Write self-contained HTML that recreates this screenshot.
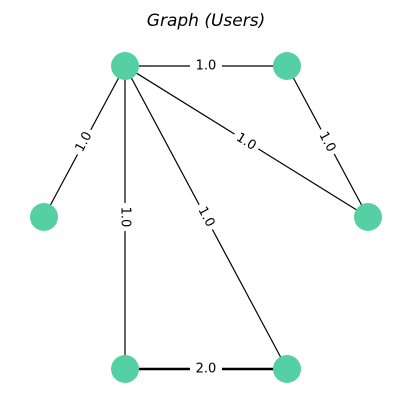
<!DOCTYPE html>
<html><head><style>body{margin:0;background:#fff}</style></head><body>
<svg width="411" height="411" viewBox="0 0 411 411" xmlns="http://www.w3.org/2000/svg" font-family="DejaVu Sans, Liberation Sans, sans-serif">
<text x="206" y="26" text-anchor="middle" font-size="17" font-style="italic">Graph (Users)</text>
<g stroke="#000" stroke-width="1.2">
<line x1="125" y1="66" x2="287" y2="66"/>
<line x1="125" y1="66" x2="44" y2="217"/>
<line x1="125" y1="66" x2="368" y2="217"/>
<line x1="287" y1="66" x2="368" y2="217"/>
<line x1="125" y1="66" x2="125" y2="369"/>
<line x1="125" y1="66" x2="287" y2="369"/>
<line x1="125" y1="369" x2="287" y2="369" stroke-width="2.4"/>
</g>
<g font-size="13" text-anchor="middle" dominant-baseline="central">
<g transform="translate(206,66)"><rect x="-16" y="-8" width="32" height="16" fill="#fff"/><text>1.0</text></g>
<g transform="translate(84,142) rotate(-61.8)"><rect x="-14" y="-8" width="28" height="16" fill="#fff"/><text>1.0</text></g>
<g transform="translate(246,142) rotate(31.8)"><rect x="-14" y="-8" width="28" height="16" fill="#fff"/><text>1.0</text></g>
<g transform="translate(327,142) rotate(61.8)"><rect x="-14" y="-8" width="28" height="16" fill="#fff"/><text>1.0</text></g>
<g transform="translate(125,217) rotate(90)"><rect x="-14" y="-8" width="28" height="16" fill="#fff"/><text>1.0</text></g>
<g transform="translate(206,217) rotate(61.9)"><rect x="-14" y="-8" width="28" height="16" fill="#fff"/><text>1.0</text></g>
<g transform="translate(206,369)"><rect x="-16" y="-8" width="32" height="16" fill="#fff"/><text>2.0</text></g>
</g>
<g fill="#54d0a4">
<circle cx="125" cy="66" r="14"/>
<circle cx="287" cy="66" r="14"/>
<circle cx="44" cy="217" r="14"/>
<circle cx="368" cy="217" r="14"/>
<circle cx="125" cy="369" r="14"/>
<circle cx="287" cy="369" r="14"/>
</g>
</svg>
</body></html>
